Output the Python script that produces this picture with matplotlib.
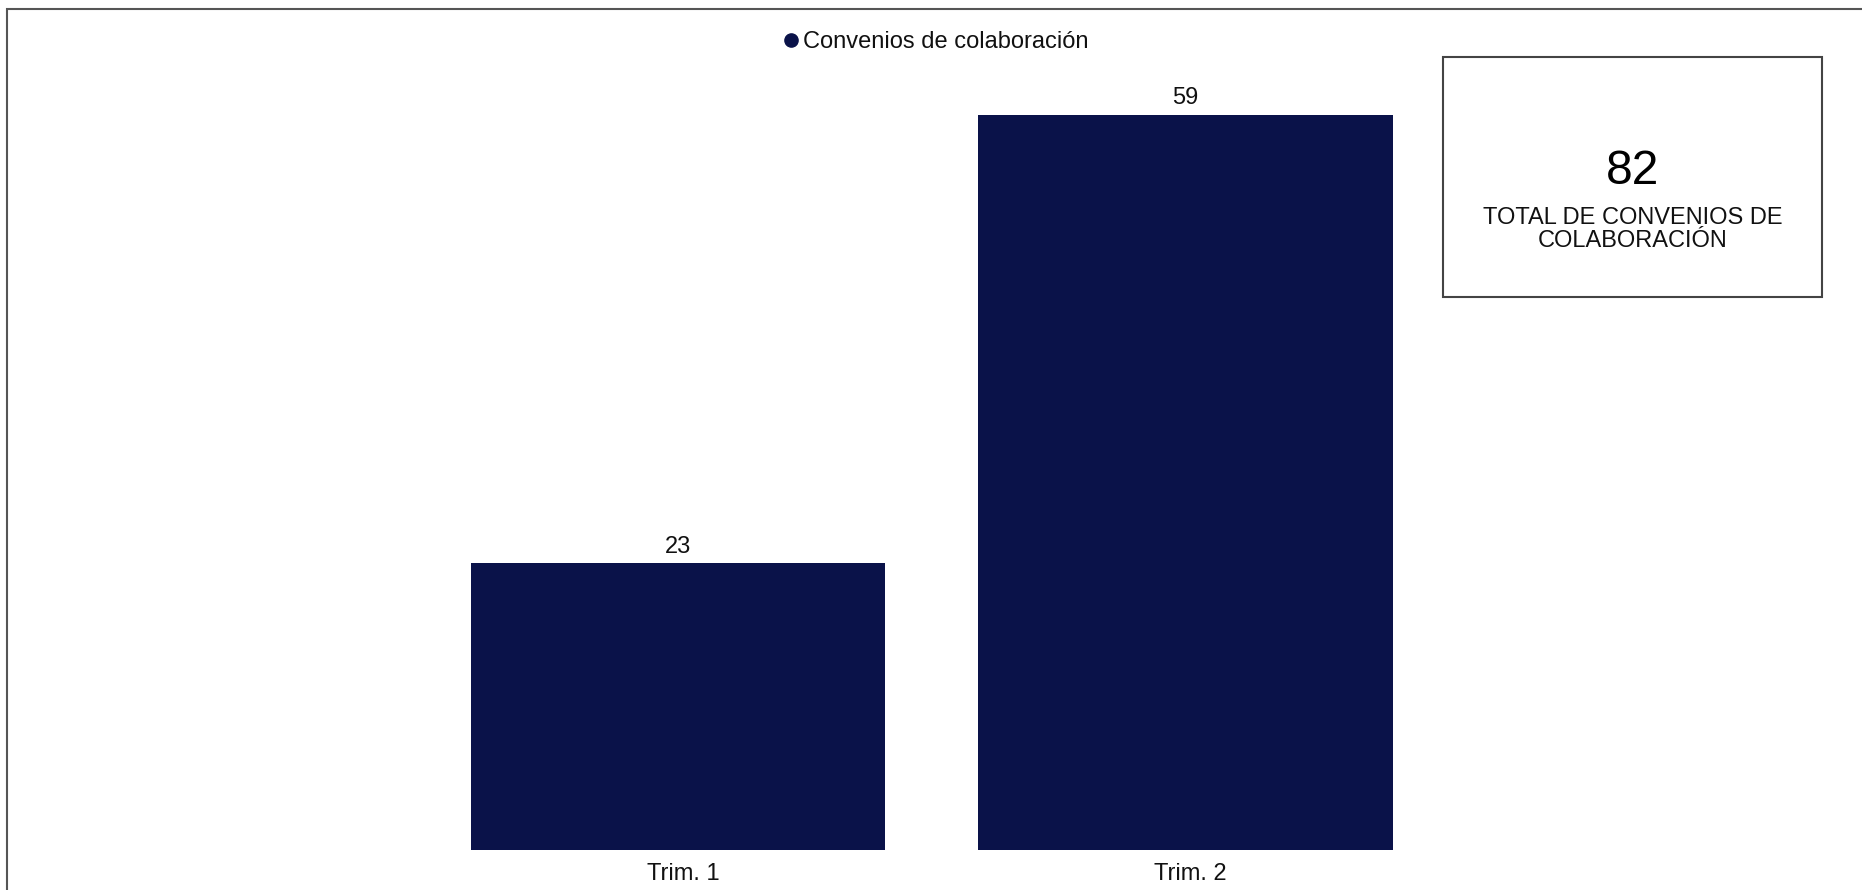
import matplotlib
matplotlib.use("Agg")
import matplotlib.pyplot as plt
from matplotlib.patches import Rectangle
from matplotlib.lines import Line2D
from matplotlib.transforms import ScaledTranslation

categories = ["Trim. 1", "Trim. 2"]
values = [23, 59]
series_name = "Convenios de colaboración"
total_value = 82
total_label = ["TOTAL DE CONVENIOS DE", "COLABORACIÓN"]

BAR_COLOR = "#0a1249"
TEXT_COLOR = "#111111"

plt.rcParams["font.family"] = ["Liberation Sans", "DejaVu Sans"]

W, H = 1862, 890
fig = plt.figure(figsize=(W / 100, H / 100), dpi=100)
fig.patch.set_facecolor("white")

def fx(px):
    return px / W

def fy(py):
    return 1 - py / H

# axes: bottom at pixel 850, covering full width
ax = fig.add_axes([0, fy(850), 1, fy(0) - fy(850)])
ax.set_facecolor("none")
xs = list(range(len(categories)))
bars = ax.bar(xs, values, width=0.816, color=BAR_COLOR)
ax.set_xlim(-678 / 507.5, (W - 678) / 507.5)
ax.set_ylim(0, 850 / 12.458)
ax.set_xticks(xs)
ax.set_xticklabels(categories, fontsize=17, color=TEXT_COLOR)
ax.tick_params(axis="x", length=0, pad=9.5)
offset = ScaledTranslation(5 / 100, 0, fig.dpi_scale_trans)
for lab in ax.get_xticklabels():
    lab.set_transform(lab.get_transform() + offset)
ax.set_yticks([])
for s in ax.spines.values():
    s.set_visible(False)
ax.bar_label(bars, labels=[str(v) for v in values], padding=4, fontsize=17, color=TEXT_COLOR)

# legend
handle = Line2D([], [], marker="o", linestyle="none", color=BAR_COLOR, markersize=9.5)
fig.legend([handle], [series_name], loc="center left",
           bbox_to_anchor=(fx(784), fy(42.5)), frameon=False, fontsize=17,
           handlelength=0.6, handletextpad=0.2, borderpad=0, borderaxespad=0,
           labelcolor=TEXT_COLOR)

# outer frame
fig.add_artist(Rectangle((fx(7), fy(905)), fx(1880), fy(9) - fy(905),
                         transform=fig.transFigure, fill=False,
                         edgecolor="#555555", linewidth=1.5))

# total box
fig.add_artist(Rectangle((fx(1443), fy(297)), fx(1822) - fx(1443), fy(57) - fy(297),
                         transform=fig.transFigure, fill=False,
                         edgecolor="#444444", linewidth=1.5))
cx = fx((1443 + 1822) / 2)
fig.text(cx, fy(172), str(total_value), ha="center", va="center", fontsize=34.5, color="black")
fig.text(cx, fy(218), total_label[0], ha="center", va="center", fontsize=17, color=TEXT_COLOR)
fig.text(cx, fy(241), total_label[1], ha="center", va="center", fontsize=17, color=TEXT_COLOR)

fig.savefig("out.png", dpi=100, facecolor="white")
